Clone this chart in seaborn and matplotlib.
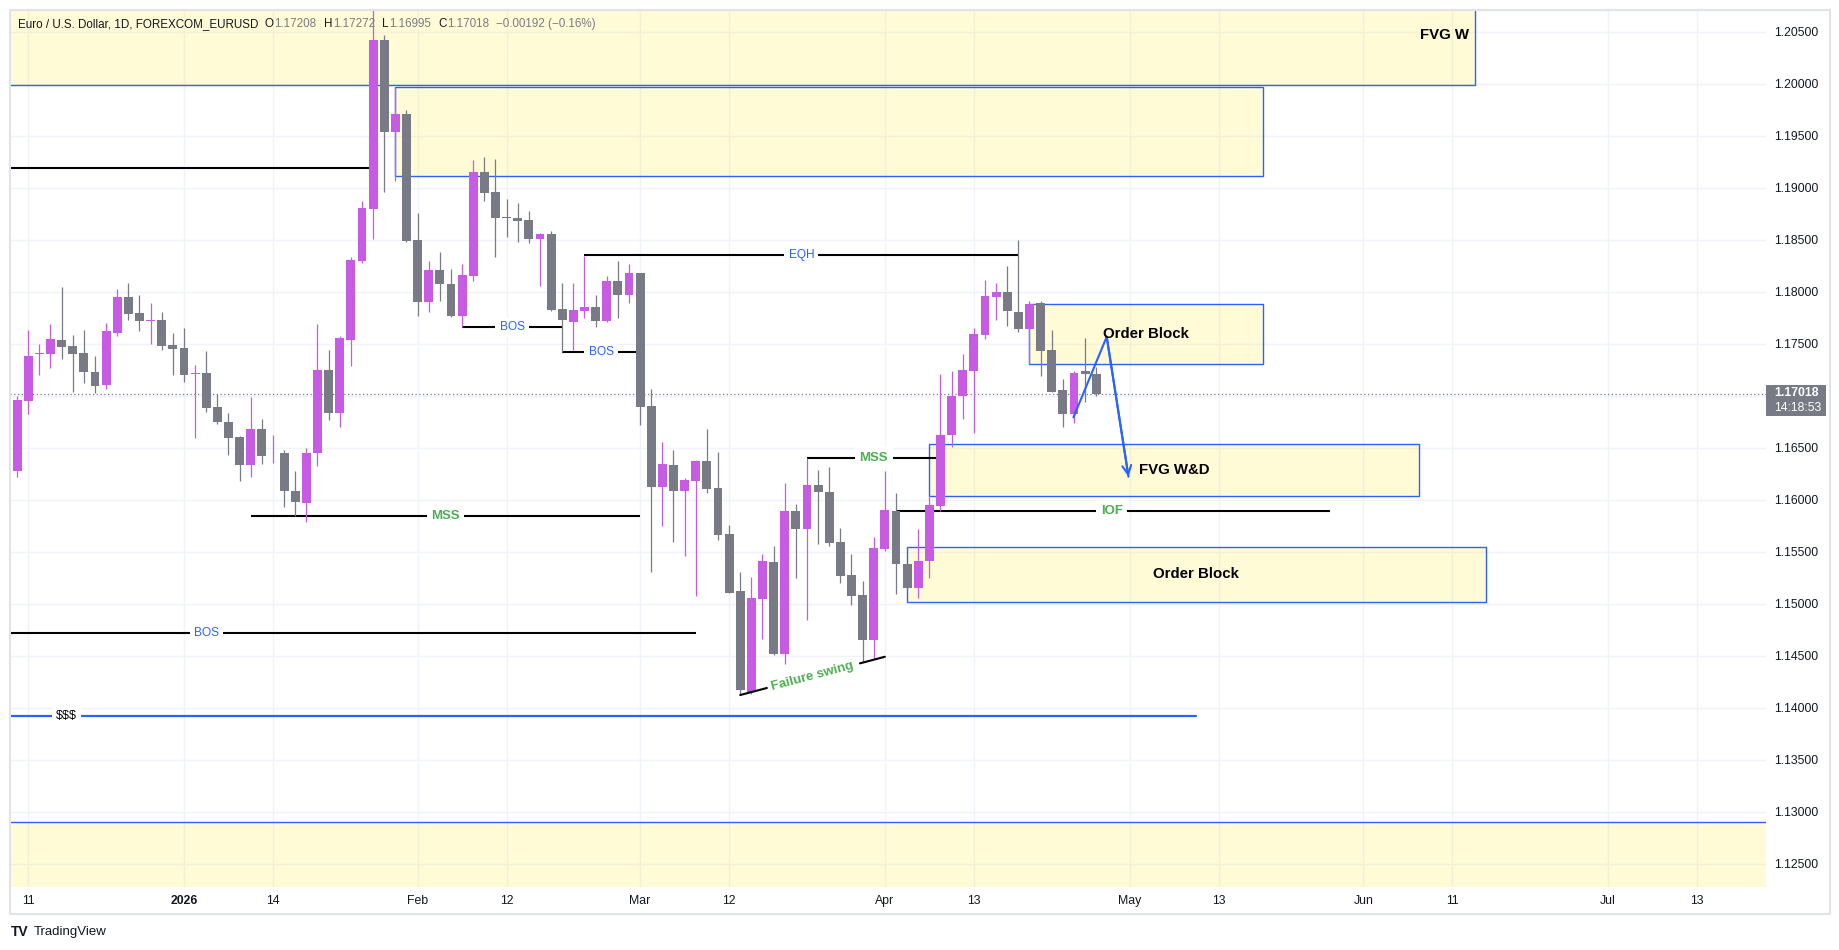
import numpy as np
import pandas as pd
import matplotlib
matplotlib.use("Agg")
import matplotlib.pyplot as plt
import seaborn as sns
from matplotlib.patches import Rectangle

# ---------------- data ----------------
start_date = "2025-12-10"
holidays = ["2025-12-25", "2026-01-01"]

opens = [1.16276, 1.16946, 1.17400, 1.17401, 1.17532, 1.17474, 1.17407, 1.17224, 1.17103, 1.17603,
         1.17946, 1.17792, 1.17722, 1.17724, 1.17484, 1.17455, 1.17208, 1.17215, 1.16888, 1.16744,
         1.16599, 1.16333, 1.16676, 1.16426, 1.16446, 1.16080, 1.15968, 1.16449, 1.17244, 1.16833,
         1.17535, 1.18298, 1.18795, 1.20420, 1.19538, 1.19708, 1.18497, 1.17904, 1.18208, 1.18074,
         1.17769, 1.18151, 1.19147, 1.18955, 1.18712, 1.18705, 1.18686, 1.18506, 1.18551, 1.17830,
         1.17708, 1.17814, 1.17850, 1.17718, 1.18099, 1.17968, 1.18176, 1.16897, 1.16122, 1.16330,
         1.16083, 1.16180, 1.16369, 1.16109, 1.15667, 1.15119, 1.14150, 1.15042, 1.15397, 1.14513,
         1.15888, 1.15718, 1.16138, 1.16071, 1.15590, 1.15272, 1.15080, 1.14651, 1.15526, 1.15888,
         1.15378, 1.15151, 1.15407, 1.15939, 1.16619, 1.16994, 1.17237, 1.17580, 1.17946, 1.17994,
         1.17801, 1.17638, 1.17888, 1.17436, 1.17051, 1.16824, 1.17234, 1.17208]
highs = [1.16994, 1.17628, 1.17500, 1.17686, 1.18042, 1.17580, 1.17628, 1.17378, 1.17696, 1.18022,
         1.18080, 1.17965, 1.17888, 1.17801, 1.17599, 1.17647, 1.17292, 1.17426, 1.17019, 1.16833,
         1.16615, 1.16984, 1.16772, 1.16619, 1.16474, 1.16272, 1.16494, 1.17686, 1.17436, 1.17571,
         1.18337, 1.18874, 1.20710, 1.20468, 1.19965, 1.19747, 1.18760, 1.18295, 1.18378, 1.18221,
         1.18263, 1.19263, 1.19295, 1.19272, 1.18894, 1.18853, 1.18772, 1.18564, 1.18580, 1.18083,
         1.18083, 1.18346, 1.17965, 1.18147, 1.18295, 1.18269, 1.18180, 1.17067, 1.16551, 1.16474,
         1.16212, 1.16378, 1.16676, 1.16458, 1.15753, 1.15304, 1.15256, 1.15474, 1.15554, 1.16160,
         1.15955, 1.16401, 1.16282, 1.16311, 1.15724, 1.15474, 1.15215, 1.15641, 1.16272, 1.16064,
         1.15385, 1.15715, 1.16048, 1.17212, 1.17234, 1.17397, 1.17654, 1.18110, 1.18083, 1.18244,
         1.18494, 1.17907, 1.17907, 1.17628, 1.17160, 1.17234, 1.17554, 1.17272]
lows = [1.16218, 1.16824, 1.17199, 1.17266, 1.17353, 1.17032, 1.17122, 1.17026, 1.17064, 1.17574,
        1.17728, 1.17622, 1.17497, 1.17439, 1.17199, 1.17128, 1.16593, 1.16843, 1.16728, 1.16429,
        1.16180, 1.16218, 1.16343, 1.16353, 1.15930, 1.15843, 1.15785, 1.16324, 1.16763, 1.16699,
        1.17282, 1.18280, 1.18506, 1.18962, 1.19064, 1.18480, 1.17769, 1.17808, 1.17910, 1.17760,
        1.17660, 1.18103, 1.18872, 1.18333, 1.18526, 1.18478, 1.18468, 1.18054, 1.17810, 1.17417,
        1.17436, 1.17750, 1.17660, 1.17710, 1.17747, 1.17891, 1.16721, 1.15304, 1.15747, 1.15593,
        1.15458, 1.15070, 1.16064, 1.15610, 1.15100, 1.14119, 1.14135, 1.14657, 1.14503, 1.14423,
        1.15247, 1.14840, 1.15571, 1.15555, 1.15199, 1.14984, 1.14439, 1.14471, 1.15506, 1.15096,
        1.15145, 1.15055, 1.15247, 1.15891, 1.16506, 1.16772, 1.16641, 1.17542, 1.17724, 1.17667,
        1.17612, 1.17298, 1.17189, 1.17032, 1.16699, 1.16737, 1.16939, 1.16995]
closes = [1.16955, 1.17378, 1.17408, 1.17542, 1.17468, 1.17401, 1.17228, 1.17093, 1.17619, 1.17946,
          1.17785, 1.17718, 1.17728, 1.17478, 1.17449, 1.17199, 1.17215, 1.16881, 1.16747, 1.16593,
          1.16333, 1.16676, 1.16420, 1.16432, 1.16087, 1.15981, 1.16446, 1.17244, 1.16833, 1.17551,
          1.18304, 1.18801, 1.20420, 1.19538, 1.19708, 1.18490, 1.17904, 1.18208, 1.18075, 1.17769,
          1.18157, 1.19147, 1.18949, 1.18708, 1.18706, 1.18683, 1.18506, 1.18554, 1.17821, 1.17728,
          1.17821, 1.17853, 1.17718, 1.18099, 1.17968, 1.18176, 1.16890, 1.16122, 1.16340, 1.16083,
          1.16186, 1.16369, 1.16103, 1.15657, 1.15106, 1.14167, 1.15051, 1.15407, 1.14513, 1.15888,
          1.15718, 1.16138, 1.16074, 1.15583, 1.15266, 1.15074, 1.14651, 1.15532, 1.15897, 1.15381,
          1.15151, 1.15407, 1.15945, 1.16619, 1.16994, 1.17244, 1.17590, 1.17955, 1.17994, 1.17814,
          1.17638, 1.17878, 1.17429, 1.17038, 1.16824, 1.17215, 1.17212, 1.17018]

tick_dates = ["2025-12-11", "2026-01-02", "2026-01-14", "2026-02-02", "2026-02-12", "2026-03-02",
              "2026-03-12", "2026-04-01", "2026-04-13", "2026-05-01", "2026-05-13", "2026-06-01",
              "2026-06-11", "2026-07-01", "2026-07-13"]
tick_labels = ["11", "2026", "14", "Feb", "12", "Mar", "12", "Apr", "13", "May", "13", "Jun",
               "11", "Jul", "13"]
price_ticks = [1.125, 1.13, 1.135, 1.14, 1.145, 1.15, 1.155, 1.16, 1.165,
               1.175, 1.18, 1.185, 1.19, 1.195, 1.2, 1.205]
price_grid = [1.125, 1.13, 1.135, 1.14, 1.145, 1.15, 1.155, 1.16, 1.165, 1.17,
              1.175, 1.18, 1.185, 1.19, 1.195, 1.2, 1.205]

last_price = 1.17018
countdown = "14:18:53"
title_main = "Euro / U.S. Dollar, 1D, FOREXCOM_EURUSD"
ohlc_tags = ["O", "H", "L", "C"]
ohlc_vals = ["1.17208", "1.17272", "1.16995", "1.17018"]
change_txt = "\u22120.00192 (\u22120.16%)"

# zones: (left bar, right bar, low price, high price, label)
zones_box = [
    (-5, 131, 1.19985, 1.2100, ""),
    (34, 112, 1.19110, 1.19965, ""),
    (91, 112, 1.17302, 1.17879, ""),
    (82, 126, 1.16033, 1.16533, ""),
    (80, 132, 1.15013, 1.15548, ""),
    (-5, 170, 1.1100, 1.12898, ""),
]
# horizontal levels: (left bar, right bar, price, label, label bar, kind)
levels = [
    (-5, 32, 1.19193, "", 0, "plain"),
    (51, 90, 1.18355, "EQH", 70.5, "blue"),
    (40, 49, 1.17663, "BOS", 44.5, "blue"),
    (49, 56, 1.17420, "BOS", 52.5, "blue"),
    (21, 56, 1.15846, "MSS", 38.5, "green"),
    (-5, 61, 1.14721, "BOS", 17.0, "blue"),
    (71, 83, 1.16404, "MSS", 77.0, "green"),
    (79, 118, 1.15891, "IOF", 98.4, "green"),
]
liq_level = (-5, 106, 1.13923, "$$$", 4.44)
swing_pts = ([65.0, 78.0], [1.14122, 1.14490])
path_x = [94.95, 97.94, 99.9]
path_y = [1.16792, 1.17567, 1.16221]
zone_labels = [
    ("FVG W", 130.5, 1.20468, "right"),
    ("Order Block", 101.5, 1.17590, "center"),
    ("FVG W&D", 100.85, 1.16286, "left"),
    ("Order Block", 106.0, 1.15290, "center"),
]

# ---------------- style ----------------
W, H, DPI = 1840, 950, 100
PURPLE = "#C85BE3"
GREY = "#787B86"
BLUE = "#2962FF"
GREEN = "#4CAF50"
DARK = "#131722"
GRID = "#F0F3FA"
YELLOW = (1.0, 0.922, 0.231, 0.2)

sns.set_theme(style="white")
plt.rcParams["font.family"] = ["Liberation Sans", "DejaVu Sans"]

fig = plt.figure(figsize=(W / DPI, H / DPI), dpi=DPI)
fig.patch.set_facecolor("white")
ax = fig.add_axes([10 / W, (H - 886.7) / H, (1766 - 10) / W, (886.7 - 10) / H])
ax.set_facecolor("white")
for s in ax.spines.values():
    s.set_visible(False)

# trading-day calendar
all_days = pd.bdate_range(start_date, "2026-07-31")
all_days = all_days[~all_days.isin(pd.to_datetime(holidays))]
df = pd.DataFrame({"date": all_days[:len(opens)], "open": opens, "high": highs,
                   "low": lows, "close": closes})
df["x"] = np.arange(len(df))
tick_pos = [all_days.get_loc(pd.Timestamp(d)) for d in tick_dates]

ax.set_xlim(-0.636, 157.2)
ax.set_ylim(1.12279, 1.20709)

# grid
for yv in price_grid:
    ax.axhline(yv, color=GRID, lw=1.0, zorder=0)
for xv in tick_pos:
    ax.axvline(xv, color=GRID, lw=1.0, zorder=0)

# zones
for x0, x1, y0, y1, _ in zones_box:
    ax.add_patch(Rectangle((x0, y0), x1 - x0, y1 - y0, facecolor=YELLOW,
                           edgecolor=BLUE, lw=1.0, zorder=1))

# levels (under candles)
for x0, x1, yv, lab, lx, kind in levels:
    ax.plot([x0, x1], [yv, yv], color="black", lw=1.5, zorder=2, solid_capstyle="butt")
    if lab:
        col = BLUE if kind == "blue" else GREEN
        fw = "normal" if kind == "blue" else "bold"
        fs = 8.6 if kind == "blue" else 9.5
        ax.text(lx, yv, lab, color=col, fontsize=fs, fontweight=fw, ha="center", va="center",
                zorder=6, bbox=dict(boxstyle="square,pad=0.35", fc="white", ec="none"))

x0, x1, yv, lab, lx = liq_level
ax.plot([x0, x1], [yv, yv], color=BLUE, lw=1.6, zorder=2)
ax.text(lx, yv, lab, color="black", fontsize=9, ha="center", va="center", zorder=6,
        bbox=dict(boxstyle="square,pad=0.35", fc="white", ec="none"))

# current price line
ax.axhline(last_price, color=GREY, lw=0.9, ls=(0, (1, 2)), zorder=2)

# candles
cols = np.where(df["close"] >= df["open"], PURPLE, GREY)
body_lo = np.minimum(df["open"], df["close"])
body_h = np.maximum(np.abs(df["close"] - df["open"]), 0.00008)
ax.vlines(df["x"], df["low"], df["high"], colors=cols, lw=0.9, zorder=3)
ax.bar(df["x"], body_h, bottom=body_lo, width=0.8, color=cols, lw=0, zorder=4)

# failure swing
sx, sy = swing_pts
fx = np.array(sx); fy = np.array(sy)
def lerp(t):
    return fx[0] + t * (fx[1] - fx[0]), fy[0] + t * (fy[1] - fy[0])
a0, a1 = lerp(0.0), lerp(0.184)
b0, b1 = lerp(0.828), lerp(1.0)
ax.plot([a0[0], a1[0]], [a0[1], a1[1]], color="black", lw=1.5, zorder=5)
ax.plot([b0[0], b1[0]], [b0[1], b1[1]], color="black", lw=1.5, zorder=5)
p0 = ax.transData.transform((fx[0], fy[0]))
p1 = ax.transData.transform((fx[1], fy[1]))
ang = np.degrees(np.arctan2(p1[1] - p0[1], p1[0] - p0[0]))
mx, my = lerp(0.5)
ax.text(mx, my, "Failure swing", color=GREEN, fontsize=9.5, fontweight="bold", rotation=ang,
        rotation_mode="anchor", ha="center", va="center", zorder=6)

# projection path
path_df = pd.DataFrame({"x": path_x, "y": path_y})
sns.lineplot(data=path_df, x="x", y="y", sort=False, color=BLUE, lw=1.5, ax=ax,
             legend=False, zorder=7, estimator=None)
ax.annotate("", xy=(path_x[2], path_y[2]), xytext=(path_x[1], path_y[1]),
            arrowprops=dict(arrowstyle="->", color=BLUE, lw=1.5, mutation_scale=16,
                            shrinkA=0, shrinkB=0), zorder=7)

# zone labels
for txt, lx, ly, ha in zone_labels:
    ax.text(lx, ly, txt, color="black", fontsize=10.8, fontweight="bold", ha=ha, va="center",
            zorder=8)

# axes ticks
ax.set_xticks(tick_pos)
ax.set_xticklabels(tick_labels)
ax.set_yticks(price_ticks)
ax.set_yticklabels([f"{v:.5f}" for v in price_ticks])
ax.yaxis.tick_right()
ax.tick_params(axis="y", length=0, pad=6, labelsize=8.8, labelcolor=DARK)
ax.tick_params(axis="x", length=0, pad=6, labelsize=8.8, labelcolor=DARK)
for t in ax.get_xticklabels():
    if t.get_text() == "2026":
        t.set_fontweight("bold")
ax.set_xlabel("")
ax.set_ylabel("")
ax.set_xlim(-0.636, 157.2)
ax.set_ylim(1.12279, 1.20709)

# current price tag on axis
fig.add_artist(Rectangle((1766 / W, (H - 416) / H), 60 / W, 31 / H, transform=fig.transFigure,
                         facecolor=GREY, edgecolor="none"))
fig.text(1774 / W, 1 - 393 / H, f"{last_price:.5f}", color="white", fontsize=8.8,
         fontweight="bold", ha="left", va="center")
fig.text(1774 / W, 1 - 408 / H, countdown, color="white", fontsize=8.8,
         ha="left", va="center")

# outer frame
fig.add_artist(Rectangle((10 / W, (H - 914) / H), 1820 / W, 904 / H, transform=fig.transFigure,
                         fill=False, edgecolor="#E0E3EB", lw=1.5))

# title (chained text pieces)
prev = fig.text(17.6 / W, 1 - 24.3 / H, title_main, color=DARK, fontsize=8.4,
                ha="left", va="center")
for tag, val in zip(ohlc_tags, ohlc_vals):
    prev = ax.annotate(tag, xy=(1, 0.5), xycoords=prev, xytext=(5, 0), textcoords="offset points",
                       color=DARK, fontsize=8.4, ha="left", va="center", annotation_clip=False)
    prev = ax.annotate(val, xy=(1, 0.5), xycoords=prev, xytext=(0.5, 0), textcoords="offset points",
                       color=GREY, fontsize=8.4, ha="left", va="center", annotation_clip=False)
ax.annotate(change_txt, xy=(1, 0.5), xycoords=prev, xytext=(5, 0), textcoords="offset points",
            color=GREY, fontsize=8.4, ha="left", va="center", annotation_clip=False)

# TradingView footer
fig.text(11 / W, 1 - 932 / H, "TV", color=DARK, fontsize=10, fontweight="black",
         ha="left", va="center")
fig.text(34 / W, 1 - 932 / H, "TradingView", color=DARK, fontsize=9.5, ha="left", va="center")

fig.savefig("out.png", dpi=DPI, facecolor="white")
